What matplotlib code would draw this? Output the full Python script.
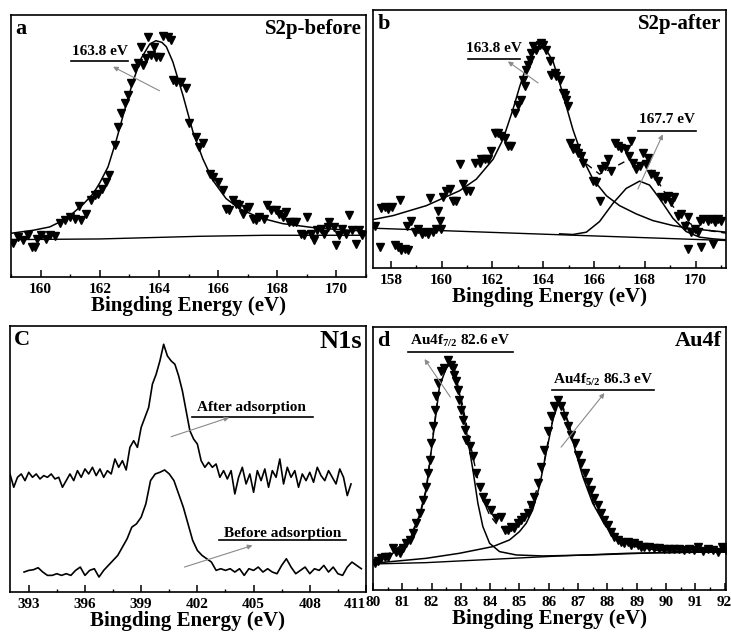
import matplotlib
matplotlib.use("Agg")
import matplotlib.pyplot as plt

plt.rcParams['font.family'] = ['Liberation Serif', 'DejaVu Serif']
plt.rcParams['font.weight'] = 'bold'
plt.rcParams['mathtext.fontset'] = 'custom'
plt.rcParams['mathtext.bf'] = 'Liberation Serif:bold'
plt.rcParams['mathtext.rm'] = 'Liberation Serif:bold'
plt.rcParams['mathtext.default'] = 'bf'

# ---------------- Panel a : S2p before ----------------
a_points = [(159.08,102),(159.25,120),(159.42,112),(159.58,125),(159.70,90),(159.81,90),(159.87,115),
            (160.03,125),(160.20,115),(160.31,125),(160.48,122),(160.65,162),(160.82,170),(160.99,180),
            (161.16,175),(161.30,212),(161.38,170),(161.55,190),(161.72,230),(161.83,245),(161.94,250),
            (162.06,265),(162.20,285),(162.31,305),(162.51,395),(162.62,450),(162.73,490),(162.84,520),
            (162.96,545),(163.07,580),(163.18,625),(163.29,640),(163.40,690),(163.46,635),(163.57,655),
            (163.63,720),(163.74,665),(163.85,690),(163.91,660),(164.02,660),(164.13,722),(164.30,720),
            (164.42,710),(164.47,590),(164.58,585),(164.75,585),(164.92,565),(165.03,460),(165.26,420),
            (165.37,390),(165.48,400),(165.71,310),(165.82,300),(165.99,285),(166.16,260),(166.27,205),
            (166.38,200),(166.49,230),(166.61,220),(166.72,215),(166.83,190),(166.94,205),(167.06,210),
            (167.17,175),(167.28,170),(167.39,180),(167.56,175),(167.67,215),(167.79,200),(167.96,200),
            (168.07,190),(168.18,180),(168.29,195),(168.40,165),(168.52,165),(168.63,165),(168.80,130),
            (168.91,125),(169.02,180),(169.13,130),(169.25,110),(169.36,140),(169.47,145),(169.58,130),
            (169.70,150),(169.75,165),(169.92,150),(169.98,95),(170.09,125),(170.20,145),(170.31,130),
            (170.43,185),(170.54,140),(170.65,100),(170.76,140),(170.88,125)]
a_fit = [(159.00,131),(159.75,140),(160.31,150),(160.88,175),(161.44,218),(161.78,250),(162.00,282),
         (162.28,330),(162.56,410),(162.84,500),(163.12,585),(163.40,655),(163.69,698),(163.90,708),
         (164.10,703),(164.25,690),(164.47,645),(164.81,545),(165.15,435),(165.48,355),(165.82,290),
         (166.27,235),(166.72,205),(167.39,178),(168.18,160),(169.30,147),(170.43,140),(171.00,138)]
a_base = [(159.0,112),(162.0,114),(163.7,118),(165.4,122),(167.6,125),(171.0,125)]

# ---------------- Panel b : S2p after ----------------
b_points = [(157.37,128),(157.57,63),(157.63,180),(157.76,183),(157.90,178),(158.03,183),(158.16,68),
            (158.29,63),(158.42,53),(158.55,58),(158.68,53),(158.35,206),(158.62,128),(158.81,143),
            (158.94,108),(159.08,118),(159.21,103),(159.34,108),(159.47,103),(159.53,210),(159.67,108),
            (159.80,118),(159.93,143),(159.86,173),(159.99,118),(160.06,213),(160.19,233),(160.32,238),
            (160.45,203),(160.58,203),(160.71,313),(160.85,253),(160.98,233),(161.11,233),(161.30,318),
            (161.50,318),(161.57,328),(161.70,328),(161.83,328),(161.96,353),(162.09,408),(162.22,408),
            (162.35,398),(162.49,393),(162.62,368),(162.75,368),(162.88,468),(163.01,493),(163.14,508),
            (163.21,568),(163.27,548),(163.34,598),(163.40,613),(163.47,628),(163.53,648),(163.60,668),
            (163.73,658),(163.86,673),(163.93,678),(163.99,673),(164.12,658),(164.26,623),(164.32,583),
            (164.45,588),(164.52,578),(164.65,568),(164.78,528),(164.85,523),(164.91,508),(164.98,488),
            (165.04,378),(165.17,358),(165.31,363),(165.37,348),(165.50,338),(165.57,318),(165.96,263),
            (166.09,258),(166.22,203),(166.29,298),(166.42,308),(166.55,328),(166.68,293),(166.81,378),
            (166.94,368),(167.08,363),(167.27,358),(167.40,338),(167.47,383),(167.53,318),(167.67,298),
            (167.80,308),(167.93,348),(168.06,313),(168.12,333),(168.26,283),(168.39,278),(168.52,263),
            (168.65,213),(168.78,208),(168.91,218),(169.04,198),(169.17,213),(169.31,158),(169.44,163),
            (169.57,128),(169.70,153),(169.83,108),(169.96,118),(170.09,108),(170.16,143),(170.29,148),
            (170.49,143),(170.62,148),(170.75,138),(170.88,148),(171.01,143),(169.70,58),(170.22,63),
            (170.68,73)]
b_fit_main = [(157.30,146),(158.09,158),(159.40,188),(160.71,233),(161.37,268),(162.03,328),(162.42,388),
              (162.81,478),(163.08,548),(163.34,608),(163.60,648),(163.80,663),(163.93,668),(164.12,658),
              (164.39,623),(164.65,558),(164.91,488),(165.17,418),(165.44,358),(165.70,308),(165.96,268),
              (166.49,218),(167.01,188),(167.67,163),(168.32,143),(169.11,128),(169.90,118),(170.55,113),
              (171.21,108)]
b_fit_second = [(164.65,103),(165.17,101),(165.70,108),(166.22,140),(166.75,195),(167.27,240),(167.80,262),
                (168.19,250),(168.58,210),(169.11,150),(169.63,110),(170.16,93),(170.68,88),(171.21,85)]
b_envelope = [(165.70,314),(166.22,283),(166.75,302),(167.27,323),(167.80,326),(168.19,302),(168.58,254),
              (169.11,186),(169.63,140),(170.16,119),(170.68,111),(171.21,105)]
b_base = [(157.3,120),(164.0,102),(171.2,83)]

# ---------------- Panel c : N1s ----------------
c_after = [(392.0,355),(392.2,315),(392.4,345),(392.6,355),(392.8,335),(393.0,360),(393.2,345),(393.4,355),
           (393.6,340),(393.8,350),(394.0,345),(394.2,355),(394.4,340),(394.6,345),(394.8,315),(395.0,335),
           (395.2,355),(395.4,335),(395.6,365),(395.8,345),(396.0,370),(396.2,355),(396.4,375),(396.6,350),
           (396.8,370),(397.0,345),(397.2,365),(397.4,355),(397.6,400),(397.8,375),(398.0,395),(398.2,367),
           (398.4,435),(398.6,455),(398.8,435),(399.0,495),(399.2,525),(399.4,555),(399.6,625),(399.8,655),
           (400.0,695),(400.2,745),(400.4,710),(400.6,695),(400.8,685),(401.0,650),(401.2,605),(401.4,545),
           (401.6,485),(401.8,460),(402.0,445),(402.2,395),(402.4,375),(402.6,390),(402.8,375),(403.0,385),
           (403.2,345),(403.4,365),(403.6,340),(403.8,365),(404.0,295),(404.2,345),(404.4,375),(404.6,325),
           (404.8,355),(405.0,300),(405.2,365),(405.4,335),(405.6,370),(405.8,315),(406.0,365),(406.2,345),
           (406.4,400),(406.6,325),(406.8,375),(407.0,345),(407.2,365),(407.4,315),(407.6,355),(407.8,335),
           (408.0,360),(408.2,330),(408.4,375),(408.6,350),(408.8,335),(409.0,365),(409.2,345),(409.4,325),
           (409.6,370),(409.8,345),(410.0,290),(410.2,325)]
c_before = [(392.75,60),(393.0,65),(393.25,67),(393.5,73),(393.75,60),(394.0,50),(394.25,50),(394.5,55),
            (394.75,50),(395.0,55),(395.25,50),(395.5,65),(395.75,75),(396.0,50),(396.25,65),(396.5,70),
            (396.75,45),(397.0,65),(397.25,80),(397.5,95),(397.75,110),(398.0,135),(398.25,160),(398.5,195),
            (398.75,205),(399.0,225),(399.25,265),(399.5,335),(399.75,355),(400.0,360),(400.25,367),
            (400.5,355),(400.75,335),(401.0,295),(401.25,255),(401.5,205),(401.75,155),(402.0,125),
            (402.25,110),(402.5,100),(402.75,90),(403.0,65),(403.25,70),(403.5,65),(403.75,70),(404.0,60),
            (404.25,70),(404.5,50),(404.75,70),(405.0,65),(405.25,75),(405.5,60),(405.75,70),(406.0,60),
            (406.25,55),(406.5,80),(406.75,100),(407.0,75),(407.25,55),(407.5,65),(407.75,75),(408.0,55),
            (408.25,70),(408.5,65),(408.75,80),(409.0,60),(409.25,75),(409.5,55),(409.75,50),(410.0,75),
            (410.25,90),(410.5,80),(410.75,70)]

# ---------------- Panel d : Au4f ----------------
d_points = [(80.06,82),(80.17,88),(80.28,95),(80.40,100),(80.51,100),(80.68,125),(80.80,115),(80.91,112),
            (81.02,125),(81.14,140),(81.25,150),(81.36,170),(81.48,200),(81.59,230),(81.70,270),(81.82,310),
            (81.88,350),(81.93,390),(81.99,440),(82.05,490),(82.10,540),(82.16,580),(82.22,620),(82.33,655),
            (82.44,665),(82.56,690),(82.67,675),(82.73,665),(82.78,645),(82.84,625),(82.90,600),(82.95,570),
            (83.01,540),(83.07,510),(83.13,480),(83.18,450),(83.30,430),(83.41,400),(83.52,350),(83.64,310),
            (83.75,280),(83.86,260),(84.03,240),(84.20,215),(84.38,220),(84.49,180),(84.60,180),(84.72,190),
            (84.83,185),(84.94,200),(85.06,210),(85.17,220),(85.28,230),(85.40,255),(85.51,280),(85.63,320),
            (85.74,370),(85.85,420),(85.97,475),(86.08,520),(86.19,550),(86.31,570),(86.42,550),(86.53,520),
            (86.65,490),(86.76,465),(86.88,440),(86.99,405),(87.10,380),(87.22,350),(87.33,325),(87.44,300),
            (87.56,275),(87.67,255),(87.78,230),(87.90,210),(88.01,195),(88.13,175),(88.24,160),(88.35,150),
            (88.47,145),(88.58,140),(88.69,145),(88.81,135),(88.92,140),(89.03,135),(89.15,130),(89.26,128),
            (89.43,130),(89.60,126),(89.77,125),(89.94,124),(90.11,122),(90.28,122),(90.45,124),(90.63,120),
            (90.80,122),(90.97,120),(91.08,128),(91.25,118),(91.42,122),(91.59,120),(91.76,115),(91.93,130),
            (92.05,120)]
d_peak1 = [(80.00,85),(80.68,110),(81.25,150),(81.59,220),(81.82,300),(82.05,460),(82.27,610),(82.50,665),
           (82.61,675),(82.78,660),(82.95,590),(83.18,480),(83.41,360),(83.58,260),(83.75,190),(83.98,140),
           (84.32,115),(84.89,105),(85.80,102),(87.50,105),(89.77,112),(92.05,115)]
d_peak2 = [(80.00,80),(81.82,95),(82.95,110),(84.09,130),(84.66,150),(85.00,175),(85.23,200),(85.45,240),
           (85.68,310),(85.91,410),(86.14,510),(86.31,555),(86.48,545),(86.70,490),(86.93,410),(87.16,340),
           (87.50,260),(87.95,190),(88.41,150),(88.98,130),(89.77,118),(90.91,114),(92.05,114)]
d_envelope = [(80.00,88),(80.68,115),(81.25,155),(81.59,225),(81.82,305),(82.05,465),(82.27,615),(82.50,670),
              (82.61,680),(82.78,665),(82.95,600),(83.18,500),(83.41,400),(83.58,330),(83.75,270),(83.98,225),
              (84.20,200),(84.43,185),(84.66,185),(84.89,195),(85.11,215),(85.34,245),(85.57,295),(85.80,365),
              (86.02,465),(86.19,530),(86.31,560),(86.48,550),(86.70,495),(86.93,415),(87.16,345),(87.50,265),
              (87.95,195),(88.41,155),(88.98,135),(89.77,122),(90.91,118),(92.05,118)]
d_base = [(80.00,78),(81.82,82),(84.09,92),(86.36,102),(88.64,110),(92.05,114)]

a_ticks = [160, 162, 164, 166, 168, 170]
b_ticks = [158, 160, 162, 164, 166, 168, 170]
c_ticks = [393, 396, 399, 402, 405, 408, 411]
d_ticks = list(range(80, 93))

XLABEL = "Bingding Energy (eV)"


def xy(pts):
    return [p[0] for p in pts], [p[1] for p in pts]


def setup(ax, xlim, ylim, ticks, minor, letter, title, title_size):
    ax.set_xlim(*xlim)
    ax.set_ylim(*ylim)
    ax.set_xticks(ticks)
    ax.set_xticks(minor, minor=True)
    ax.set_yticks([])
    ax.tick_params(axis='x', which='major', direction='in', length=5, width=1.1,
                   labelsize=11, pad=4)
    ax.tick_params(axis='x', which='minor', direction='in', length=2.5, width=1.0)
    for s in ax.spines.values():
        s.set_linewidth(1.2)
    ax.set_xlabel(XLABEL, fontsize=15, fontweight='bold', labelpad=0)
    ax.text(0.012, 0.985, letter, transform=ax.transAxes, ha='left', va='top',
            fontsize=16, fontweight='bold')
    ax.text(0.988, 0.985, title, transform=ax.transAxes, ha='right', va='top',
            fontsize=title_size, fontweight='bold')


def note(ax, text, tc, ul, tail, head, fs=11):
    ax.text(tc[0], tc[1], text, ha='center', va='center', fontsize=fs, fontweight='bold')
    ax.plot([ul[0], ul[1]], [ul[2], ul[2]], color='black', lw=1.2)
    ax.annotate('', xy=head, xytext=tail,
                arrowprops=dict(arrowstyle='-|>', color='#8a8a8a', lw=0.8,
                                mutation_scale=7, shrinkA=0, shrinkB=0))


fig = plt.figure(figsize=(7.31, 6.34), dpi=100)
W, H = 731.0, 634.0


def add_axes(l, t, r, b):
    return fig.add_axes([l / W, 1 - b / H, (r - l) / W, (b - t) / H])


ax_a = add_axes(11, 15, 366, 277)
ax_b = add_axes(373, 10, 726, 268)
ax_c = add_axes(10, 326, 366, 592)
ax_d = add_axes(373, 327, 726, 590)

MS = 5.2

# panel a
x, y = xy(a_points)
ax_a.plot(x, y, 'v', color='black', ms=MS, ls='none')
x, y = xy(a_fit)
ax_a.plot(x, y, color='black', lw=1.1)
x, y = xy(a_base)
ax_a.plot(x, y, color='black', lw=1.0)
setup(ax_a, (159, 171), (0, 785), a_ticks, list(range(159, 172, 2)), 'a', 'S2p-before', 15)
note(ax_a, '163.8 eV', (162.0, 675), (161.03, 162.96, 648), (164.02, 558), (162.45, 630))

# panel b
x, y = xy(b_points)
ax_b.plot(x, y, 'v', color='black', ms=MS, ls='none')
x, y = xy(b_fit_main)
ax_b.plot(x, y, color='black', lw=1.1)
x, y = xy(b_fit_second)
ax_b.plot(x, y, color='black', lw=1.1)
x, y = xy(b_envelope)
ax_b.plot(x, y, color='black', lw=1.0, ls=(0, (5, 4)))
x, y = xy(b_base)
ax_b.plot(x, y, color='black', lw=1.0)
setup(ax_b, (157.3, 171.2), (0, 778), b_ticks, list(range(159, 172, 2)), 'b', 'S2p-after', 15)
note(ax_b, '163.8 eV', (162.05, 663), (161.04, 163.08, 630), (163.80, 558), (162.61, 623))
note(ax_b, '167.7 eV', (168.87, 448), (167.73, 170.0, 413), (167.73, 238), (168.71, 403))

# panel c
x, y = xy(c_after)
ax_c.plot(x, y, color='black', lw=1.2)
x, y = xy(c_before)
ax_c.plot(x, y, color='black', lw=1.2)
setup(ax_c, (392.0, 410.9), (0, 800), c_ticks, [394.5, 397.5, 400.5, 403.5, 406.5, 409.5],
      'C', 'N1s', 19)
ax_c.set_xticklabels([str(t) for t in c_ticks])
ax_c.get_xticklabels()[-1].set_horizontalalignment('right')
note(ax_c, 'After adsorption', (404.9, 555), (401.72, 408.16, 527), (400.60, 467), (403.70, 525))
note(ax_c, 'Before adsorption', (406.53, 177), (403.13, 409.92, 155), (401.31, 75), (404.94, 140))

# panel d
x, y = xy(d_points)
ax_d.plot(x, y, 'v', color='black', ms=MS, ls='none')
x, y = xy(d_peak1)
ax_d.plot(x, y, color='black', lw=1.1)
x, y = xy(d_peak2)
ax_d.plot(x, y, color='black', lw=1.1)
x, y = xy(d_envelope)
ax_d.plot(x, y, color='black', lw=1.0, ls=(0, (5, 4)))
x, y = xy(d_base)
ax_d.plot(x, y, color='black', lw=1.0)
setup(ax_d, (80, 92.05), (0, 788), d_ticks, [x + 0.5 for x in range(80, 92)], 'd', 'Au4f', 16)
note(ax_d, r'Au4f$_{7/2}$ 82.6 eV', (82.97, 745), (81.19, 84.77, 712), (82.64, 578), (81.76, 692))
note(ax_d, r'Au4f$_{5/2}$ 86.3 eV', (87.86, 630), (86.11, 89.60, 600), (86.42, 428), (87.90, 590))

fig.savefig('out.png', dpi=100)
